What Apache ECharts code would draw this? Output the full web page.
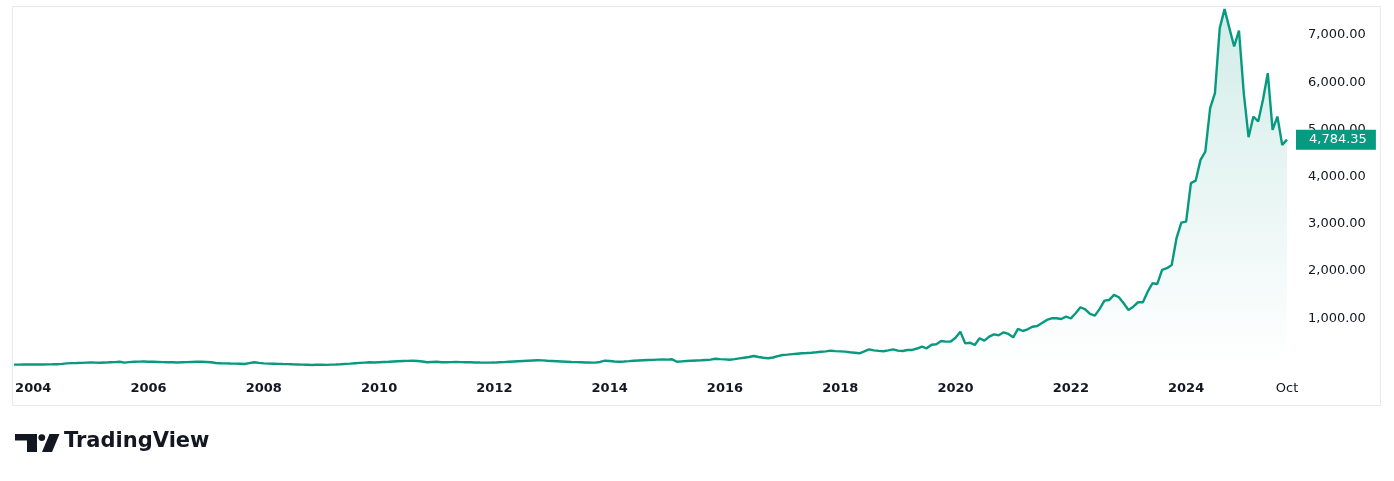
<!DOCTYPE html>
<html>
<head>
<meta charset="utf-8">
<script src="https://cdn.jsdelivr.net/npm/echarts@6.0.0/dist/echarts.min.js"></script>
<style>
html,body{margin:0;padding:0;background:#ffffff;}
#chart{width:1394px;height:481px;}
</style>
</head>
<body>
<div id="chart"></div>
<script>
// Monthly closes, Sep 2003 .. Oct 2025
const startYear = 2003;
const startMonth = 9;
const closes2003 = [18, 19, 20, 20];
const closes2004 = [21, 20, 22, 23, 25, 28, 35, 45, 50, 52, 55, 60];
const closes2005 = [62, 60, 58, 62, 68, 72, 80, 60, 72, 78, 82, 85];
const closes2006 = [80, 78, 75, 72, 70, 70, 63, 68, 72, 75, 78, 80];
const closes2007 = [75, 70, 52, 48, 45, 42, 40, 38, 32, 50, 68, 55];
const closes2008 = [45, 40, 38, 35, 32, 30, 25, 22, 18, 15, 12, 15];
const closes2009 = [15, 14, 18, 22, 28, 35, 40, 48, 55, 62, 68, 65];
const closes2010 = [70, 75, 78, 85, 90, 95, 98, 102, 95, 85, 68, 75];
const closes2011 = [80, 70, 68, 72, 75, 72, 70, 68, 65, 62, 60, 60];
const closes2012 = [62, 68, 72, 80, 85, 90, 95, 100, 105, 110, 108, 100];
const closes2013 = [95, 90, 85, 80, 75, 72, 70, 65, 62, 60, 75, 102];
const closes2014 = [95, 85, 80, 85, 92, 100, 105, 110, 115, 120, 125, 128];
const closes2015 = [125, 131, 80, 88, 95, 100, 105, 110, 118, 125, 144, 135];
const closes2016 = [130, 123, 135, 150, 165, 180, 201, 180, 165, 153, 170, 200];
const closes2017 = [223, 230, 240, 250, 260, 265, 271, 280, 290, 300, 314, 305];
const closes2018 = [300, 293, 280, 270, 259, 300, 343, 320, 310, 301, 320, 343];
const closes2019 = [315, 307, 329, 329, 360, 399, 365, 441, 450, 519, 505, 510];
const closes2020 = [589, 717, 470, 483, 435, 577, 526, 611, 661, 640, 704, 668];
const closes2021 = [598, 774, 731, 767, 822, 837, 900, 965, 1000, 1000, 986, 1035];
const closes2022 = [1000, 1107, 1234, 1191, 1092, 1056, 1200, 1374, 1389, 1495, 1446, 1319];
const closes2023 = [1177, 1247, 1340, 1340, 1565, 1743, 1728, 2025, 2061, 2131, 2697, 3027];
const closes2024 = [3049, 3863, 3918, 4357, 4533, 5453, 5771, 7149, 7551, 7149, 6759, 7098];
const closes2025 = [5771, 4838, 5275, 5169, 5629, 6195, 4993, 5275, 4675, 4784.35];

const yTicks = [1000, 2000, 3000, 4000, 5000, 6000, 7000];
const monthNames = ['Jan','Feb','Mar','Apr','May','Jun','Jul','Aug','Sep','Oct','Nov','Dec'];

const closes = [].concat(closes2003, closes2004, closes2005, closes2006, closes2007, closes2008,
  closes2009, closes2010, closes2011, closes2012, closes2013, closes2014, closes2015, closes2016,
  closes2017, closes2018, closes2019, closes2020, closes2021, closes2022, closes2023, closes2024, closes2025);

const months = [];
for (let i = 0; i < closes.length; i++) {
  const m = startMonth - 1 + i;
  months.push((startYear + Math.floor(m / 12)) + '-' + String(m % 12 + 1).padStart(2, '0'));
}
const lastIdx = months.length - 1;

function fmt2(v) {
  return v.toLocaleString('en-US', {minimumFractionDigits: 2, maximumFractionDigits: 2});
}

const FONT = 'DejaVu Sans';
const TEXT = '#131722';
const GREEN = '#089981';

const chart = echarts.init(document.getElementById('chart'), null, {renderer: 'canvas'});
chart.setOption({
  animation: false,
  backgroundColor: '#ffffff',
  grid: {left: 14, right: 107, top: 6.8, bottom: 115.5, containLabel: false},
  xAxis: {
    type: 'category',
    data: months,
    boundaryGap: false,
    axisLine: {show: false},
    axisTick: {show: false},
    splitLine: {show: false},
    axisLabel: {
      margin: 17,
      interval: function (index, value) {
        if (index === lastIdx) return true;
        const y = +value.slice(0, 4), mo = value.slice(5);
        return mo === '01' && y % 2 === 0;
      },
      formatter: function (value, index) {
        if (index === lastIdx) return '{n|' + monthNames[+value.slice(5) - 1] + '}';
        return '{b|' + value.slice(0, 4) + '}';
      },
      rich: {
        b: {fontFamily: FONT, fontSize: 13, fontWeight: 'bold', color: TEXT},
        n: {fontFamily: FONT, fontSize: 13, color: TEXT}
      }
    }
  },
  yAxis: {
    type: 'value',
    position: 'right',
    min: 0,
    max: 7600,
    interval: 1000,
    axisLine: {show: false},
    axisTick: {show: false},
    splitLine: {show: false},
    axisLabel: {
      margin: 21,
      fontFamily: FONT,
      fontSize: 13,
      color: TEXT,
      showMaxLabel: false,
      formatter: function (v) { return yTicks.indexOf(v) >= 0 ? fmt2(v) : ''; }
    }
  },
  series: [{
    type: 'line',
    data: closes,
    symbol: 'none',
    showSymbol: false,
    z: 3,
    lineStyle: {color: GREEN, width: 2.4},
    areaStyle: {
      color: new echarts.graphic.LinearGradient(0, 0, 0, 1, [
        {offset: 0, color: 'rgba(8,153,129,0.26)'},
        {offset: 1, color: 'rgba(8,153,129,0.0)'}
      ])
    },
    endLabel: {
      show: true,
      distance: 9,
      formatter: function (p) { return fmt2(p.value); },
      fontFamily: FONT,
      fontSize: 13,
      color: '#ffffff',
      backgroundColor: GREEN,
      padding: [3, 9, 3, 13],
      lineHeight: 14
    }
  }],
  graphic: [
    {type: 'rect', silent: true, z: -1,
     shape: {x: 12.5, y: 6.5, width: 1368, height: 399},
     style: {fill: 'none', stroke: '#e6e9f0', lineWidth: 1}},
    {type: 'polygon', silent: true,
     shape: {points: [[15, 434], [37, 434], [37, 452], [27, 452], [27, 440.5], [15, 440.5]]},
     style: {fill: TEXT}},
    {type: 'circle', silent: true,
     shape: {cx: 41.8, cy: 437.6, r: 3.4},
     style: {fill: TEXT}},
    {type: 'polygon', silent: true,
     shape: {points: [[42, 452], [52, 452], [59.5, 434], [49.5, 434]]},
     style: {fill: TEXT}},
    {type: 'text', silent: true, x: 64, y: 442,
     style: {text: 'TradingView', fill: TEXT, fontFamily: 'DejaVu Sans', fontWeight: 'bold',
             fontSize: 21, textAlign: 'left', textVerticalAlign: 'middle'}}
  ]
});
</script>
</body>
</html>
